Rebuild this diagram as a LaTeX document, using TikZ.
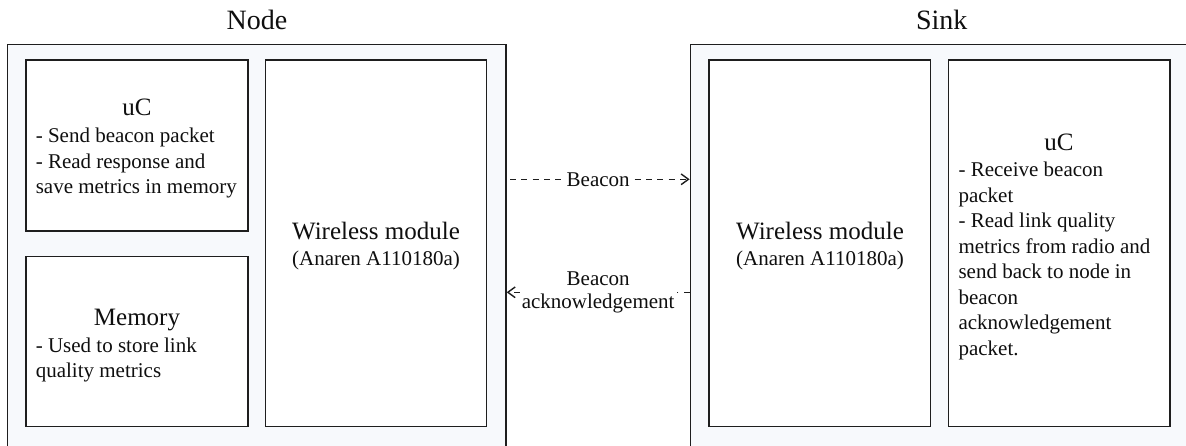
\documentclass[tikz,border=0pt]{standalone}
\usepackage{fontspec}
\setmainfont{Liberation Serif}
\usetikzlibrary{fit,arrows.meta}

\definecolor{panelfill}{RGB}{247,249,252}
\definecolor{edge}{RGB}{30,30,30}
\definecolor{ink}{RGB}{15,15,15}

\tikzset{
  panel/.style={draw=edge, line width=1pt, fill=panelfill, inner sep=0pt, rectangle},
  block/.style={draw=edge, line width=1pt, fill=white, inner sep=0pt, rectangle},
  paneltitle/.style={text=ink, inner sep=0pt, font=\fontsize{21}{25}\selectfont},
  blockhead/.style={text=ink, inner sep=0pt, font=\fontsize{18.75}{22}\selectfont},
  % multi-line bodies are anchored on the baseline of their last line
  blockbody/.style={text=ink, inner sep=0pt, align=left, font=\fontsize{15.75}{19.1}\selectfont},
  blocksub/.style={text=ink, inner sep=0pt, font=\fontsize{15.75}{19.1}\selectfont},
  msg/.style={draw=edge, line width=1.05pt, dash pattern=on 4.5pt off 4pt,
              -{Straight Barb[length=5.5pt,width=8pt]}},
  msglabel/.style={text=ink, fill=white, inner sep=1.5pt, align=center,
              font=\fontsize{15.75}{17.6}\selectfont},
}

\begin{document}
\begin{tikzpicture}[x=0.75pt, y=-0.75pt]
  \useasboundingbox (0,0) rectangle (1186,446);
  \clip (0,0) rectangle (1186,446);

  % ---------- Node side ----------
  \node[paneltitle, anchor=base] (nodetitle) at (257,30) {Node};
  \node[panel, fit={(7.7,44.3) (506,470)}] (nodebox) {};

  \node[block, fit={(26,60) (248,231)}] (nodeuc) {};
  \node[blockhead, anchor=base] (nodeuchead) at (137,115) {uC};
  \node[blockbody, anchor=base west] (nodeucbody) at (35.5,193.5)
    {- Send beacon packet\\- Read response and\\save metrics in memory};

  \node[block, fit={(26,256.3) (248,426.7)}] (nodemem) {};
  \node[blockhead, anchor=base] (nodememhead) at (137,325) {Memory};
  \node[blockbody, anchor=base west] (nodemembody) at (35.5,377.8)
    {- Used to store link\\quality metrics};

  \node[block, fit={(265.3,60) (486.7,426.7)}] (noderadio) {};
  \node[blockhead, anchor=base] (noderadiohead) at (376,239.3) {Wireless module};
  \node[blocksub, anchor=base] (noderadiosub) at (376,265.7) {(Anaren A110180a)};

  % ---------- Sink side ----------
  \node[paneltitle, anchor=base] (sinktitle) at (941.7,30) {Sink};
  \node[panel, fit={(690.3,44.3) (1188.6,470)}] (sinkbox) {};

  \node[block, fit={(709,60) (930.7,426.7)}] (sinkradio) {};
  \node[blockhead, anchor=base] (sinkradiohead) at (820,239.3) {Wireless module};
  \node[blocksub, anchor=base] (sinkradiosub) at (820,265.7) {(Anaren A110180a)};

  \node[block, fit={(948.3,60) (1170,426.7)}] (sinkuc) {};
  \node[blockhead, anchor=base] (sinkuchead) at (1059,150) {uC};
  \node[blockbody, anchor=base west] (sinkucbody) at (958.3,355)
    {- Receive beacon\\packet\\- Read link quality\\metrics from radio and\\send back to node in\\beacon\\acknowledgement\\packet.};

  % ---------- Messages between the panels ----------
  \coordinate (beaconrow) at (0,179.3);
  \coordinate (ackrow) at (0,292.3);

  \draw[msg, dash phase=6pt] (nodebox.east |- beaconrow) -- (sinkbox.west |- beaconrow)
    node[msglabel, midway] (beaconlabel) {Beacon};
  \draw[msg] (sinkbox.west |- ackrow) -- (nodebox.east |- ackrow)
    node[msglabel, midway] (acklabel) {Beacon\\acknowledgement};
\end{tikzpicture}
\end{document}
